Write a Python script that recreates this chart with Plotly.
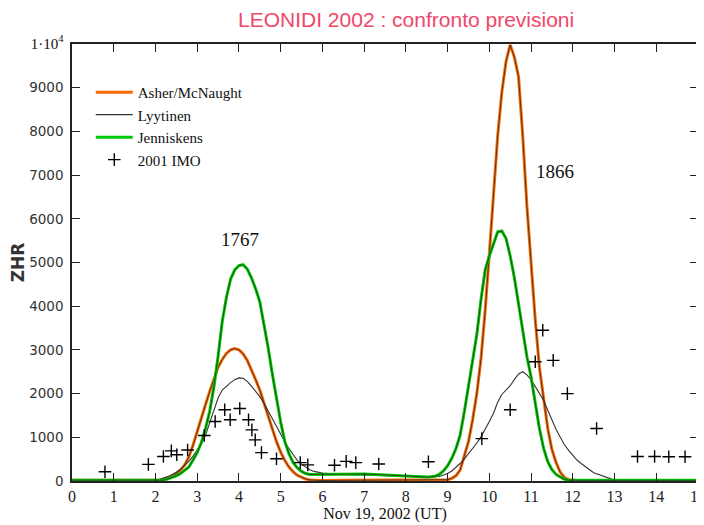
import plotly.graph_objects as go

# ---- time grid (hours UT, Nov 19 2002) ----
HOURS_LEFT = [0.0, 1.0, 1.5, 1.8, 1.9]
HOURS_P1 = [round(2.0 + 0.1 * i, 1) for i in range(41)]   # 2.0 .. 6.0
HOURS_MID = [6.5, 7.0, 7.5, 8.0, 8.3]
HOURS_P2 = [round(8.5 + 0.1 * i, 1) for i in range(41)]   # 8.5 .. 12.5
HOURS_RIGHT = [13.0, 14.0, 15.0]
HOURS = HOURS_LEFT + HOURS_P1 + HOURS_MID + HOURS_P2 + HOURS_RIGHT

# ---- Asher/McNaught ----
ASHER_LEFT = [15, 15, 15, 15, 15]
ASHER_P1 = [15, 20, 40, 70, 110, 170, 250, 370, 550, 820,
            1150, 1450, 1750, 2050, 2350, 2600, 2780, 2920, 3000, 3030,
            3000, 2910, 2760, 2560, 2320, 2080, 1780, 1480, 1180, 900,
            660, 470, 320, 210, 130, 80, 45, 25, 15, 10,
            10]
ASHER_MID = [15, 15, 15, 15, 15]
ASHER_P2 = [15, 15, 15, 15, 20,
            30, 60, 120, 250, 560, 900, 1400, 2000, 2800, 3900,
            5200, 6500, 7900, 8900, 9600, 9980, 9700, 9250, 7900, 6300,
            4900, 3700, 2600, 1850, 1200, 720, 420, 200, 80, 30,
            15, 10, 10, 10, 10, 10]
ASHER_RIGHT = [10, 10, 10]

# ---- Lyytinen ----
LYY_LEFT = [10, 10, 10, 10, 15]
LYY_P1 = [20, 40, 70, 100, 150, 200, 270, 350, 450, 570,
          700, 850, 1050, 1350, 1650, 1900, 2080, 2170, 2250, 2320,
          2360, 2350, 2280, 2170, 2050, 1930, 1780, 1600, 1420, 1250,
          1080, 900, 740, 600, 470, 380, 310, 260, 220, 200,
          180]
LYY_MID = [150, 130, 120, 110, 100]
LYY_P2 = [100, 100, 100, 105, 130,
          170, 230, 310, 400, 500, 620, 740, 870, 1010, 1170,
          1360, 1550, 1800, 1980, 2080, 2180, 2320, 2450, 2500, 2430,
          2320, 2170, 2010, 1850, 1620, 1380, 1180, 1000, 830, 700,
          580, 480, 400, 330, 260, 190]
LYY_RIGHT = [20, 10, 10]

# ---- Jenniskens ----
JEN_LEFT = [20, 20, 20, 20, 20]
JEN_P1 = [15, 15, 20, 50, 80, 120, 170, 240, 320, 480,
          650, 880, 1200, 1600, 2150, 2850, 3650, 4200, 4620, 4830,
          4930, 4950, 4850, 4650, 4400, 4100, 3600, 3050, 2450, 1850,
          1350, 900, 620, 420, 300, 220, 170, 150, 150, 150,
          150]
JEN_MID = [160, 160, 140, 110, 100]
JEN_P2 = [90, 95, 110, 150, 230,
          350, 520, 740, 1050, 1580, 2160, 2800, 3350, 4150, 4830,
          5150, 5450, 5700, 5720, 5550, 5150, 4650, 4050, 3400, 2850,
          2380, 1780, 1200, 750, 440, 260, 150, 90, 40, 20,
          15, 15, 15, 15, 15, 15]
JEN_RIGHT = [15, 15, 15]

ASHER = ASHER_LEFT + ASHER_P1 + ASHER_MID + ASHER_P2 + ASHER_RIGHT
LYYTINEN = LYY_LEFT + LYY_P1 + LYY_MID + LYY_P2 + LYY_RIGHT
JENNISKENS = JEN_LEFT + JEN_P1 + JEN_MID + JEN_P2 + JEN_RIGHT

# ---- 2001 IMO observations ----
IMO_T = [0.79, 1.83, 2.19, 2.38, 2.51, 2.77, 3.17, 3.43, 3.66, 3.79,
         4.02, 4.23, 4.31, 4.39, 4.54, 4.90, 5.47, 5.65, 6.29, 6.57,
         6.80, 7.35, 8.54, 9.82, 10.50, 11.10, 11.28, 11.53, 11.87, 12.57,
         13.55, 13.96, 14.30, 14.69]
IMO_ZHR = [210, 380, 560, 690, 600, 710, 1040, 1360, 1630, 1400,
           1660, 1400, 1170, 940, 650, 510, 420, 370, 360, 450,
           420, 390, 440, 970, 1630, 2730, 3450, 2760, 2000, 1200,
           560, 560, 555, 555]

X_TICKS = list(range(0, 16))
Y_TICKS = [0, 1000, 2000, 3000, 4000, 5000, 6000, 7000, 8000, 9000, 10000]
Y_TICKTEXT = ["0", "1000", "2000", "3000", "4000", "5000", "6000", "7000",
              "8000", "9000",
              '<span style="font-family:Liberation Serif;font-size:15px;color:#111">1·10<sup>4</sup></span>']

PEAK_LABELS = [(4.03, 5520, "1767"), (11.57, 7090, "1866")]

fig = go.Figure()

# Asher/McNaught: orange with dark edge
fig.add_trace(go.Scatter(x=HOURS, y=ASHER, mode="lines", name="Asher/McNaught",
                         line=dict(color="#ff6a00", width=3),
                         legendgroup="a"))
fig.add_trace(go.Scatter(x=HOURS, y=ASHER, mode="lines", showlegend=False,
                         line=dict(color="#2a2a2a", width=0.8),
                         legendgroup="a", hoverinfo="skip"))
# Lyytinen: thin dark line
fig.add_trace(go.Scatter(x=HOURS, y=LYYTINEN, mode="lines", name="Lyytinen",
                         line=dict(color="#333333", width=1.1)))
# Jenniskens: green with dark edge
fig.add_trace(go.Scatter(x=HOURS, y=JENNISKENS, mode="lines", name="Jenniskens",
                         line=dict(color="#00cc00", width=3),
                         legendgroup="j"))
fig.add_trace(go.Scatter(x=HOURS, y=JENNISKENS, mode="lines", showlegend=False,
                         line=dict(color="#2a2a2a", width=0.8),
                         legendgroup="j", hoverinfo="skip"))
# IMO crosses
fig.add_trace(go.Scatter(x=IMO_T, y=IMO_ZHR, mode="markers", name="2001 IMO",
                         marker=dict(symbol="cross-thin", size=9,
                                     line=dict(color="#000000", width=1.4))))

for x, y, t in PEAK_LABELS:
    fig.add_annotation(x=x, y=y, text=t, showarrow=False,
                       font=dict(family="Liberation Serif", size=19, color="#111"))

axis_common = dict(showline=True, linecolor="#222", linewidth=1.5, mirror="ticks",
                   ticks="inside", ticklen=8, tickwidth=1.2, tickcolor="#222",
                   showgrid=False, zeroline=False, automargin=False)

# page body has an 8px margin, so the figure is sized/positioned to compensate
fig.update_layout(
    width=696, height=517,
    margin=dict(l=64, r=6, t=36, b=44),
    paper_bgcolor="white", plot_bgcolor="white",
    title=dict(text="LEONIDI 2002 : confronto previsioni", x=0.572, xanchor="center",
               y=0.977, yanchor="middle",
               font=dict(family="Liberation Sans", size=21, color="#f0466a")),
    xaxis=dict(range=[0, 15], tickvals=X_TICKS, **axis_common,
               ticklabeloverflow="allow",
               tickfont=dict(family="Liberation Serif", size=16, color="#222"),
               title=dict(text="Nov 19, 2002 (UT)", standoff=4,
                          font=dict(family="Liberation Serif", size=16, color="#111"))),
    yaxis=dict(range=[0, 10000], tickvals=Y_TICKS, ticktext=Y_TICKTEXT, **axis_common,
               ticklabelstandoff=4,
               tickfont=dict(family="DejaVu Sans", size=13.5, color="#333"),
               title=dict(text="<b>ZHR</b>", standoff=0,
                          font=dict(family="DejaVu Sans", size=17, color="#333"))),
    legend=dict(x=0.03, y=0.927, xanchor="left", yanchor="top",
                bgcolor="rgba(0,0,0,0)", borderwidth=0,
                font=dict(family="Liberation Serif", size=15, color="#111"),
                itemwidth=37, tracegroupgap=0),
    showlegend=True,
)

fig.write_html("out.html")
